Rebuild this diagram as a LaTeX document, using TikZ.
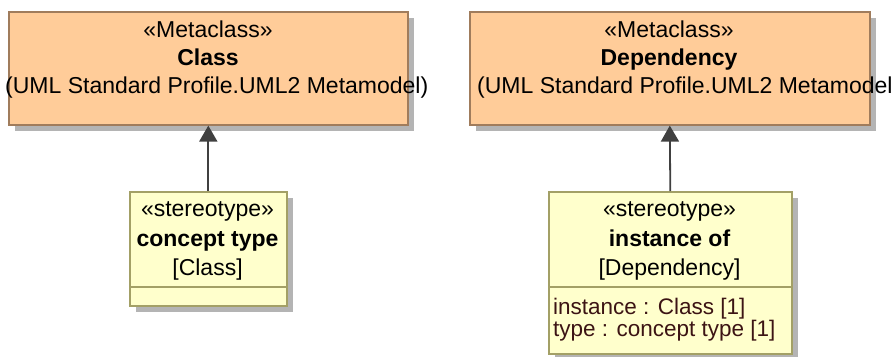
\documentclass[tikz,border=0pt]{standalone}
\usepackage{fontspec}
\setmainfont{Liberation Sans}
\usetikzlibrary{arrows.meta,shadows}
\definecolor{metafill}{HTML}{FFCC99}
\definecolor{metaedge}{HTML}{A07C5C}
\definecolor{stereofill}{HTML}{FFFFCC}
\definecolor{stereoedge}{HTML}{A3A066}
\definecolor{shadowgray}{HTML}{B4B4B4}
\definecolor{linkgray}{HTML}{404040}
\definecolor{attrtext}{HTML}{3C1414}

\tikzset{
  umlshadow/.style={drop shadow={shadow xshift=6pt,shadow yshift=-6pt,fill=shadowgray,opacity=1}},
  metabox/.style={draw=metaedge,fill=metafill,line width=1.6pt,umlshadow,anchor=north west,inner sep=0pt},
  stereobox/.style={draw=stereoedge,fill=stereofill,line width=1.6pt,umlshadow,anchor=north west,inner sep=0pt},
  label/.style={anchor=base,inner sep=0pt},
  attr/.style={anchor=base west,inner sep=0pt,text=attrtext,align=left,font=\fontsize{22.5}{18}\selectfont},
  generalization/.style={draw=linkgray,line width=1.8pt,-{Triangle[width=18pt,length=16pt]}}
}

\begin{document}
\begin{tikzpicture}[x=1pt,y=-1pt,font=\fontsize{23}{28}\selectfont]
  \useasboundingbox (0,0) rectangle (896,356);

  % metaclass boxes
  \node[metabox,minimum width=399pt,minimum height=113pt] (classbox) at (8,11) {};
  \node[metabox,minimum width=400pt,minimum height=113pt] (depbox) at (469,11) {};

  % stereotype boxes
  \node[stereobox,minimum width=157pt,minimum height=114pt] (concept) at (129,191) {};
  \node[stereobox,minimum width=243pt,minimum height=162pt] (instof) at (548,191) {};
  \coordinate (sepline) at (0,287);
  \draw[stereoedge,line width=1.6pt] (concept.west |- sepline) -- (concept.east |- sepline);
  \draw[stereoedge,line width=1.6pt] (instof.west |- sepline) -- (instof.east |- sepline);

  % extensions
  \draw[generalization] (concept.north) -- (classbox.south);
  \draw[generalization] (instof.north) -- (depbox.south);

  % texts of Class
  \node[label] (classst) at (208,37) {«Metaclass»};
  \node[label,font=\fontsize{23}{28}\selectfont\bfseries] (classname) at (208,65) {Class};
  \node[label,anchor=base west] (classpkg) at (5,93) {(UML Standard Profile.UML2 Metamodel)};

  % texts of Dependency
  \node[label] (depst) at (669,37) {«Metaclass»};
  \node[label,font=\fontsize{23}{28}\selectfont\bfseries] (depname) at (669,65) {Dependency};
  \node[label,anchor=base west] (deppkg) at (477,93) {(UML Standard Profile.UML2 Metamodel};

  % texts of concept type
  \node[label] (conceptst) at (207.5,216) {«stereotype»};
  \node[label,font=\fontsize{23}{28}\selectfont\bfseries] (conceptname) at (207.5,246) {concept type};
  \node[label] (conceptmeta) at (207.5,275) {[Class]};

  % texts of instance of
  \node[label] (instofst) at (669.5,216) {«stereotype»};
  \node[label,font=\fontsize{23}{28}\selectfont\bfseries] (instofname) at (669.5,246) {instance of};
  \node[label] (instofmeta) at (669.5,275) {[Dependency]};
  \node[attr] (attrs) at (553,336.5) {instance : Class [1]\\type : concept type [1]};
\end{tikzpicture}
\end{document}
